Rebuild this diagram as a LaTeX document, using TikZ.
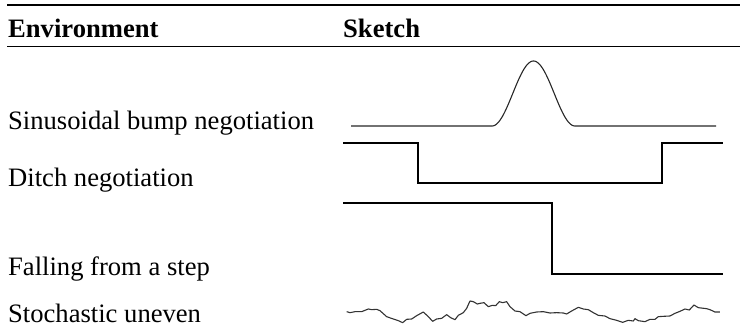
\documentclass[tikz,border=0pt]{standalone}
\usepackage{fontspec}
\setmainfont{Liberation Serif}
\begin{document}
\begin{tikzpicture}[x=1pt,y=-1pt,
  lbl/.style={anchor=base west,inner sep=0pt,font=\fontsize{26.6}{30}\selectfont},
  hdr/.style={lbl,font=\fontsize{26.6}{30}\selectfont\bfseries},
  toprl/.style={line width=2pt},
  midrl/.style={line width=1.1pt},
  thinline/.style={line width=1.1pt,black!85,line join=round},
  thickline/.style={line width=2pt,black,line join=miter},
  roughline/.style={line width=1.1pt,black!80,line join=round}]
\useasboundingbox (0,0) rectangle (740,335);
% rules
\draw[toprl] (7,5) -- (740,5);
\draw[midrl] (7,46.5) -- (740,46.5);
% header
\node[hdr] (henv) at (8,37) {Environment};
\node[hdr] (hsk) at (343,37) {Sketch};
% rows
\node[lbl] (r1) at (8,129) {Sinusoidal bump negotiation};
\node[lbl] (r2) at (8,186) {Ditch negotiation};
\node[lbl] (r3) at (8,275) {Falling from a step};
\node[lbl] (r4) at (8,322) {Stochastic uneven};
% bump
\draw[thinline] (351,126) -- (492,126)
  -- plot[domain=0:1,samples=80] ({492+83*\x},{126-65*(1-cos(360*\x))/2})
  -- (716,126);
% ditch
\draw[thickline] (343,143.3) -- (418,143.3) -- (418,183.3) -- (662,183.3) -- (662,143.3) -- (723,143.3);
% step
\draw[thickline] (343,202.7) -- (552,202.7) -- (552,274) -- (723,274);
% rough terrain
\begin{scope}[shift={(330,280)},x=0.3333pt,y=-0.3333pt]
\draw[roughline] (50,95) -- (60,98) -- (75,95) -- (95,95) -- (115,87) -- (125,89) -- (140,88) -- (150,92) -- (170,110) -- (190,117) -- (205,122) -- (218,128) -- (230,118) -- (245,117) -- (260,107) -- (280,96) -- (295,110) -- (308,124) -- (320,117) -- (335,115) -- (350,104) -- (362,113) -- (375,119) -- (385,106) -- (400,98) -- (410,85) -- (420,63) -- (430,65) -- (442,72) -- (450,70) -- (462,68) -- (475,80) -- (487,76) -- (497,77) -- (508,65) -- (518,68) -- (530,65) -- (540,80) -- (555,93) -- (570,95) -- (588,107) -- (600,100) -- (620,96) -- (640,95) -- (660,99) -- (680,98) -- (700,99) -- (710,102) -- (725,93) -- (745,82) -- (760,87) -- (775,89) -- (790,98) -- (805,106) -- (825,108) -- (840,116) -- (860,121) -- (878,127) -- (895,121) -- (910,123) -- (915,116) -- (925,122) -- (945,125) -- (960,118) -- (975,118) -- (985,110) -- (1000,109) -- (1020,108) -- (1035,100) -- (1050,94) -- (1065,87) -- (1078,90) -- (1092,75) -- (1105,83) -- (1130,86) -- (1140,89) -- (1155,96) -- (1170,96);
\end{scope}
\end{tikzpicture}
\end{document}
